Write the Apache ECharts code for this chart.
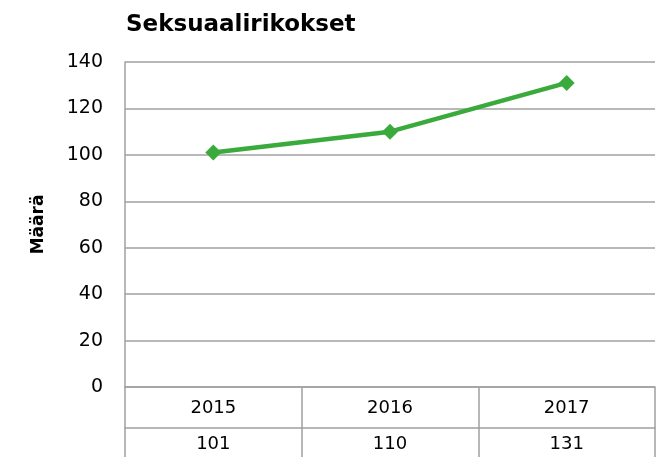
<!DOCTYPE html>
<html>
<head>
<meta charset="utf-8">
<script src="https://cdn.jsdelivr.net/npm/echarts@6/dist/echarts.min.js"></script>
<style>
  html, body { margin: 0; padding: 0; background: #fff; }
  #chart { width: 658px; height: 457px; }
</style>
</head>
<body>
<div id="chart"></div>
<script>
// data
const years = ['2015', '2016', '2017'];
const counts = [101, 110, 131];
const yTicks = [0, 20, 40, 60, 80, 100, 120, 140];

const font = 'DejaVu Sans';
const gridColor = '#a0a0a0';

const chart = echarts.init(document.getElementById('chart'));
chart.setOption({
  animation: false,
  textStyle: { fontFamily: font },
  title: {
    text: 'Seksuaalirikokset',
    left: 121,
    top: 9,
    textStyle: { fontFamily: font, fontSize: 23, fontWeight: 'bold', color: '#000' }
  },
  grid: { left: 125, right: 3, top: 62, bottom: 70 },
  xAxis: [
    {
      type: 'category',
      data: years,
      boundaryGap: true,
      axisLine: { show: true, lineStyle: { color: gridColor, width: 1.5 } },
      axisTick: { show: true, length: 70, lineStyle: { color: gridColor, width: 1.5 } },
      axisLabel: { color: '#000', fontSize: 18, margin: 12 }
    },
    {
      type: 'category',
      data: years,
      position: 'bottom',
      offset: 41,
      axisLine: { show: true, lineStyle: { color: gridColor, width: 1.5 } },
      axisTick: { show: false },
      axisLabel: {
        color: '#000', fontSize: 18, margin: 7,
        formatter: (v, i) => String(counts[i])
      }
    }
  ],
  yAxis: {
    type: 'value',
    min: yTicks[0],
    max: yTicks[yTicks.length - 1],
    interval: 20,
    name: 'Määrä',
    nameLocation: 'middle',
    nameGap: 78,
    nameTextStyle: { fontFamily: font, fontSize: 17, fontWeight: 'bold', color: '#000' },
    axisLine: { show: true, lineStyle: { color: gridColor, width: 1.5 } },
    axisTick: { show: false },
    axisLabel: { color: '#000', fontSize: 19, margin: 22 },
    splitLine: { lineStyle: { color: gridColor, width: 1.5 } }
  },
  series: [{
    type: 'line',
    data: counts,
    symbol: 'diamond',
    symbolSize: 16,
    lineStyle: { color: '#3aaa3c', width: 4.5 },
    itemStyle: { color: '#3aaa3c' }
  }]
});
</script>
</body>
</html>
